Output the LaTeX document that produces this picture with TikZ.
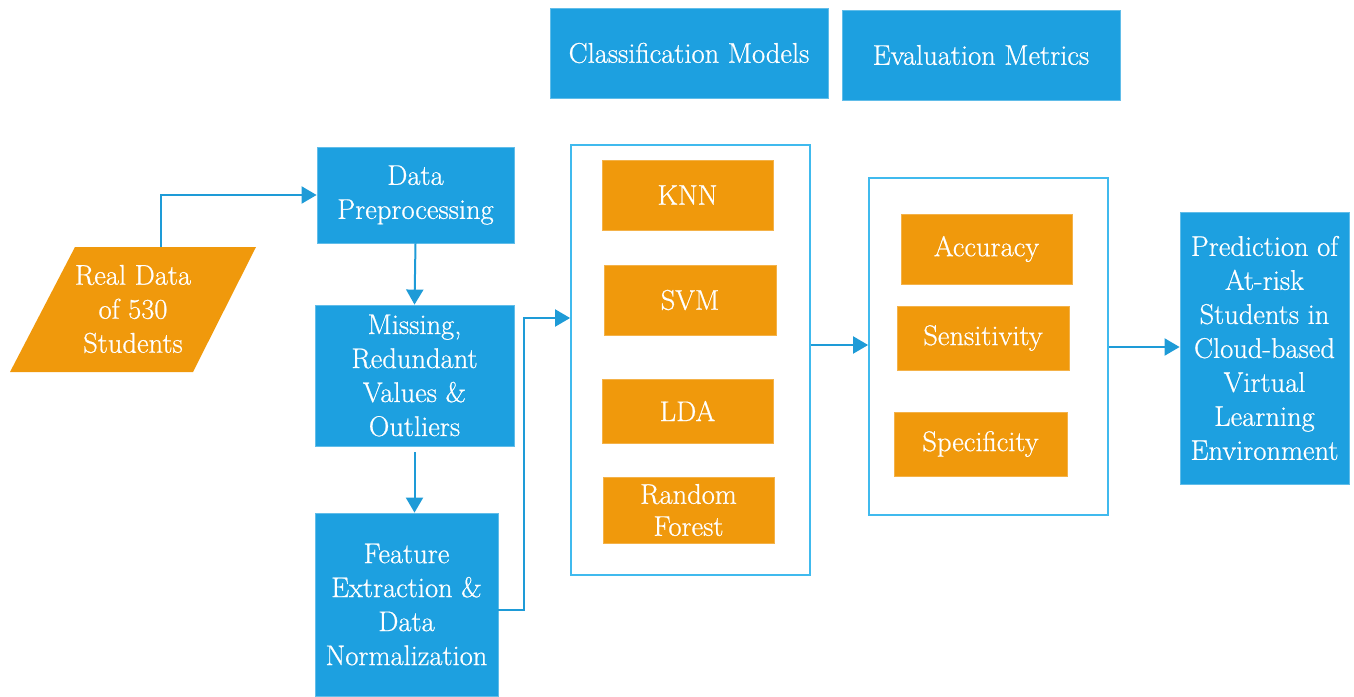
\documentclass[tikz,border=0pt]{standalone}
\usepackage{fontspec}
\newfontfamily\lmheavy{Latin Modern Roman}[FakeBold=0.7]
\usetikzlibrary{arrows.meta}
\definecolor{bluebox}{RGB}{29,160,224}
\definecolor{orangebox}{RGB}{240,153,12}
\definecolor{frameblue}{RGB}{64,186,238}
\definecolor{arrowblue}{RGB}{30,155,215}
\tikzset{
  bx/.style={fill=bluebox, draw=bluebox!70!white, line width=0.8pt, text=white, align=center, inner sep=0pt, font=\lmheavy\fontsize{28.5}{34}\selectfont},
  ox/.style={fill=orangebox, draw=orangebox!75!white, line width=0.8pt, text=white, align=center, inner sep=0pt, font=\lmheavy\fontsize{28.5}{32}\selectfont},
  frame/.style={draw=frameblue, line width=1.8pt, fill=white, inner sep=0pt},
  conn/.style={draw=arrowblue, line width=2pt, -{Triangle[length=15pt,width=17pt]}},
}
\begin{document}
\begin{tikzpicture}[x=1pt,y=-1pt]
\useasboundingbox (0,0) rectangle (1354,696);
% header boxes
\node[bx, minimum width=278pt, minimum height=90pt] (cm) at (689,53) {Classification Models};
\node[bx, minimum width=278pt, minimum height=90pt] (em) at (981,55) {Evaluation Metrics};
% input parallelogram
\fill[orangebox] (10,372) -- (75,247) -- (256,247) -- (193,372) -- cycle;
\node[text=white, align=center, inner sep=0pt, font=\lmheavy\fontsize{28.5}{34}\selectfont] (real) at (133,309) {Real Data\\of 530\\Students};
\coordinate (realtop) at (161,247);
% preprocessing chain
\node[bx, minimum width=197pt, minimum height=96pt] (dp) at (415.5,195) {Data\\Preprocessing};
\node[bx, minimum width=199pt, minimum height=141pt] (mv) at (414.5,375.5) {Missing,\\Redundant\\Values \&\\Outliers};
\node[bx, minimum width=183pt, minimum height=183pt] (fe) at (406.5,604.5) {Feature\\Extraction \&\\Data\\Normalization};
% classification frame
\node[frame, minimum width=239pt, minimum height=430pt] (cf) at (690.5,360) {};
\node[ox, minimum width=171pt, minimum height=70pt] (knn) at (687.5,195) {KNN};
\node[ox, minimum width=172pt, minimum height=70pt] (svm) at (690,300) {SVM};
\node[ox, minimum width=171pt, minimum height=64pt] (lda) at (687.5,411) {LDA};
\node[ox, minimum width=171pt, minimum height=66pt] (rf) at (688.5,510) {Random\\Forest};
% evaluation frame
\node[frame, minimum width=239pt, minimum height=337pt] (ef) at (988.5,346.5) {};
\node[ox, minimum width=171pt, minimum height=70pt] (acc) at (986.5,249) {Accuracy};
\node[ox, minimum width=172pt, minimum height=64pt] (sen) at (983,338) {Sensitivity};
\node[ox, minimum width=173pt, minimum height=64pt] (spe) at (980.5,444) {Specificity};
% output
\node[bx, minimum width=169pt, minimum height=272pt] (out) at (1264.5,348) {Prediction of\\At-risk\\Students in\\Cloud-based\\Virtual\\Learning\\Environment};
% connectors
\draw[conn] (realtop) |- (dp.west);
\draw[conn] (dp.south) -- (mv.north);
\draw[conn] ([yshift=-6pt]mv.south) -- (fe.north -| mv.south);
\coordinate (bend) at (524,610);
\draw[conn] (fe.east |- bend) -- (bend) |- (cf.west |- 0,318);
\draw[conn] (cf.east |- 0,345) -- (ef.west |- 0,345);
\draw[conn] (ef.east |- 0,347) -- (out.west |- 0,347);
\end{tikzpicture}
\end{document}
